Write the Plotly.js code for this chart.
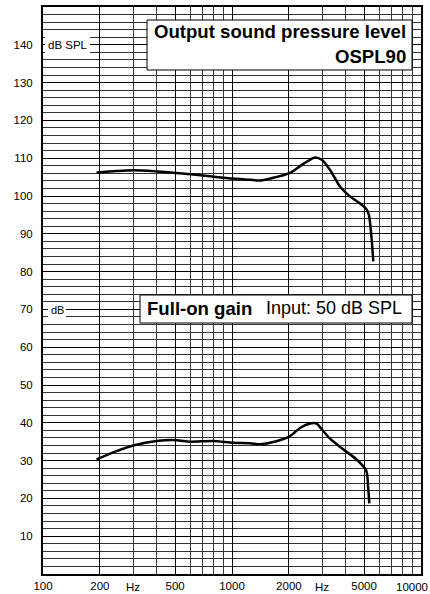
<!DOCTYPE html>
<html>
<head>
<meta charset="utf-8">
<script src="https://cdn.plot.ly/plotly-3.0.1.min.js"></script>
<style>
html,body{margin:0;padding:0;background:#fff;}
#chart{width:430px;height:594px;}
</style>
</head>
<body>
<div id="chart"></div>
<script>
// ---- data ----
const osplFreq = [192, 245, 300, 400, 508, 705, 1016, 1245, 1406, 1589, 2028, 2385, 2748, 2985, 3302, 3726, 4210, 4700, 5164, 5300, 5450, 5594];
const osplDb   = [106.2, 106.6, 106.8, 106.5, 106.1, 105.4, 104.6, 104.3, 104.1, 104.6, 106.1, 108.5, 110.2, 109.6, 106.9, 102.5, 99.9, 98.2, 96.4, 95.0, 90.0, 82.7];
const gainFreq = [192, 245, 300, 400, 508, 600, 795, 1016, 1245, 1406, 1589, 2028, 2300, 2590, 2800, 2985, 3302, 3870, 4560, 5130, 5250, 5330];
const gainDb   = [30.3, 32.5, 34.0, 35.2, 35.4, 35.0, 35.2, 34.7, 34.6, 34.3, 34.7, 36.5, 38.7, 39.8, 39.8, 38.3, 35.8, 33.0, 30.3, 27.4, 23.0, 18.7];

const xMajorVals = [100, 200, 500, 1000, 2000, 5000];
const xMajorText = ['100', '200', '500', '1000', '2000', '5000'];
const xEdgeLabel = {freq: 10000, text: '10000'};
const xMinorVals = [300, 400, 600, 700, 800, 900, 3000, 4000, 6000, 7000, 8000, 9000];
const hzLabelFreqs = [300, 3000];
const yMajorVals = [10, 20, 30, 40, 50, 60, 70, 80, 90, 100, 110, 120, 130, 140];
const yMinorVals = [];
for (let v = 2; v < 150; v += 2) { if (v % 10 !== 0) yMinorVals.push(v); }

// ---- layout helpers (pixel -> paper) ----
const L = 43, R = 9, T = 7, B = 20, W = 430, H = 594;
const PW = W - L - R, PH = H - T - B;
const px = x => (x - L) / PW;
const py = y => 1 - (y - T) / PH;

const font = 'Liberation Sans, Arial, Helvetica, sans-serif';

const traces = [
  {x: osplFreq, y: osplDb, mode: 'lines', line: {color: '#000', width: 2.5, shape: 'spline', smoothing: 0.8}, hoverinfo: 'skip'},
  {x: gainFreq, y: gainDb, mode: 'lines', line: {color: '#000', width: 2.5, shape: 'spline', smoothing: 0.8}, hoverinfo: 'skip'}
];

const shapes = [
  {type: 'rect', xref: 'paper', yref: 'paper', x0: px(45), x1: px(90), y0: py(36), y1: py(54), fillcolor: '#fff', line: {width: 0}, layer: 'above'},
  {type: 'rect', xref: 'paper', yref: 'paper', x0: px(48), x1: px(66), y0: py(302), y1: py(318), fillcolor: '#fff', line: {width: 0}, layer: 'above'},
  {type: 'rect', xref: 'paper', yref: 'paper', x0: px(147), x1: px(412), y0: py(20), y1: py(70), fillcolor: '#fff', line: {color: '#000', width: 1}, layer: 'above'},
  {type: 'rect', xref: 'paper', yref: 'paper', x0: px(140), x1: px(412), y0: py(295), y1: py(323), fillcolor: '#fff', line: {color: '#000', width: 1}, layer: 'above'}
];

const annotations = [
  {xref: 'paper', yref: 'paper', x: px(68), y: py(45), text: 'dB SPL', showarrow: false, xanchor: 'center', yanchor: 'middle', font: {family: font, size: 11.5, color: '#000'}},
  {xref: 'paper', yref: 'paper', x: px(57), y: py(310), text: 'dB', showarrow: false, xanchor: 'center', yanchor: 'middle', font: {family: font, size: 11, color: '#000'}},
  {xref: 'paper', yref: 'paper', x: px(408), y: py(31), text: '<b>Output sound pressure level</b>', showarrow: false, xanchor: 'right', yanchor: 'middle', font: {family: font, size: 18.6, color: '#000'}},
  {xref: 'paper', yref: 'paper', x: px(408), y: py(56.5), text: '<b>OSPL90</b>', showarrow: false, xanchor: 'right', yanchor: 'middle', font: {family: font, size: 18.6, color: '#000'}},
  {xref: 'paper', yref: 'paper', x: px(145), y: py(308), text: '<b>Full-on gain</b>', showarrow: false, xanchor: 'left', yanchor: 'middle', font: {family: font, size: 18.6, color: '#000'}},
  {xref: 'paper', yref: 'paper', x: px(404), y: py(308), text: 'Input: 50 dB SPL', showarrow: false, xanchor: 'right', yanchor: 'middle', font: {family: font, size: 18, color: '#000'}},
  {xref: 'paper', yref: 'paper', x: px(429.5), y: py(587), text: xEdgeLabel.text, showarrow: false, xanchor: 'right', yanchor: 'middle', font: {family: font, size: 11.5, color: '#000'}}
];
hzLabelFreqs.forEach(f => annotations.push({
  xref: 'x', yref: 'paper', x: Math.log10(f), y: py(587), text: 'Hz', showarrow: false,
  xanchor: 'center', yanchor: 'middle', font: {family: font, size: 11.5, color: '#000'}
}));

const layout = {
  width: W, height: H,
  margin: {l: L, r: R, t: T, b: B, pad: 0},
  paper_bgcolor: '#fff', plot_bgcolor: '#fff',
  showlegend: false,
  font: {family: font, size: 11.5, color: '#000'},
  xaxis: {
    type: 'log', range: [2, 4], fixedrange: true,
    tickmode: 'array', tickvals: xMajorVals, ticktext: xMajorText,
    showgrid: true, gridcolor: '#000', gridwidth: 1,
    minor: {tickmode: 'array', tickvals: xMinorVals, showgrid: true, gridcolor: '#3a3a3a', gridwidth: 1, ticks: ''},
    ticks: '', showline: true, linecolor: '#000', linewidth: 2, mirror: true, zeroline: false,
    tickfont: {family: font, size: 11.5, color: '#000'}
  },
  yaxis: {
    range: [0, 150], fixedrange: true,
    tickmode: 'array', tickvals: yMajorVals,
    showgrid: true, gridcolor: '#000', gridwidth: 1,
    minor: {tickmode: 'array', tickvals: yMinorVals, showgrid: true, gridcolor: '#333', gridwidth: 1, ticks: ''},
    ticks: '', showline: true, linecolor: '#000', linewidth: 2, mirror: true, zeroline: false,
    ticklabelstandoff: 6,
    tickfont: {family: font, size: 11.5, color: '#000'}
  },
  shapes: shapes,
  annotations: annotations
};

Plotly.newPlot('chart', traces, layout, {staticPlot: true, displayModeBar: false});
</script>
</body>
</html>
